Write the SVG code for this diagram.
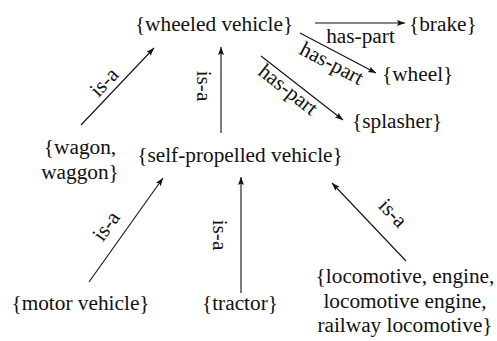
<svg xmlns="http://www.w3.org/2000/svg" width="497" height="341" viewBox="0 0 497 341">
<style>
text{font-family:"Liberation Serif","Times New Roman",serif;font-size:21.3px;fill:#111}
.c{text-anchor:middle}
.e line{stroke:#111;stroke-width:1.1;marker-end:url(#ah)}
</style>
<defs>
<marker id="ah" markerUnits="userSpaceOnUse" markerWidth="10" markerHeight="8" refX="8" refY="3" orient="auto">
<path d="M0,0 L8,3 L0,6 L1.5,3 z" fill="#111"/>
</marker>
</defs>
<rect width="497" height="341" fill="#fff"/>
<g class="e" id="connectors">
<line x1="315" y1="23" x2="405" y2="23"/>
<line x1="300" y1="33" x2="376" y2="73"/>
<line x1="261" y1="56" x2="343" y2="120"/>
<line x1="221" y1="133" x2="221" y2="47"/>
<line x1="81" y1="125" x2="154" y2="48"/>
<line x1="89" y1="282" x2="163" y2="178"/>
<line x1="241" y1="293" x2="241" y2="177"/>
<line x1="406" y1="261" x2="332" y2="183"/>
<text class="c" x="360.5" y="43">has-part</text>
<text class="c" transform="translate(331,65) rotate(27.8)" y="5">has-part</text>
<text class="c" transform="translate(287,91) rotate(38.3)" y="5">has-part</text>
<text class="c" transform="translate(203.5,86) rotate(90)" y="7">is-a</text>
<text class="c" transform="translate(104,82) rotate(-46.5)" y="7">is-a</text>
<text class="c" transform="translate(106,226) rotate(-54.6)" y="7">is-a</text>
<text class="c" transform="translate(220,235) rotate(90)" y="7">is-a</text>
<text class="c" transform="translate(393,213) rotate(46.5)" y="7">is-a</text>
</g>
<g id="wheeled"><text class="c" x="214" y="31">{wheeled vehicle}</text></g>
<g id="brake"><text x="409" y="31">{brake}</text></g>
<g id="wheel"><text x="382" y="81">{wheel}</text></g>
<g id="splasher"><text x="352" y="128">{splasher}</text></g>
<g id="wagon"><text class="c" x="80" y="154">{wagon,</text><text class="c" x="80" y="178.5">waggon}</text></g>
<g id="selfpropelled"><text class="c" x="240" y="162">{self-propelled vehicle}</text></g>
<g id="motor"><text class="c" x="80.5" y="310">{motor vehicle}</text></g>
<g id="tractor"><text class="c" x="240" y="310">{tractor}</text></g>
<g id="locomotive"><text class="c" x="405" y="283">{locomotive, engine,</text><text class="c" x="405" y="307.5">locomotive engine,</text><text class="c" x="405" y="332">railway locomotive}</text></g>
</svg>
